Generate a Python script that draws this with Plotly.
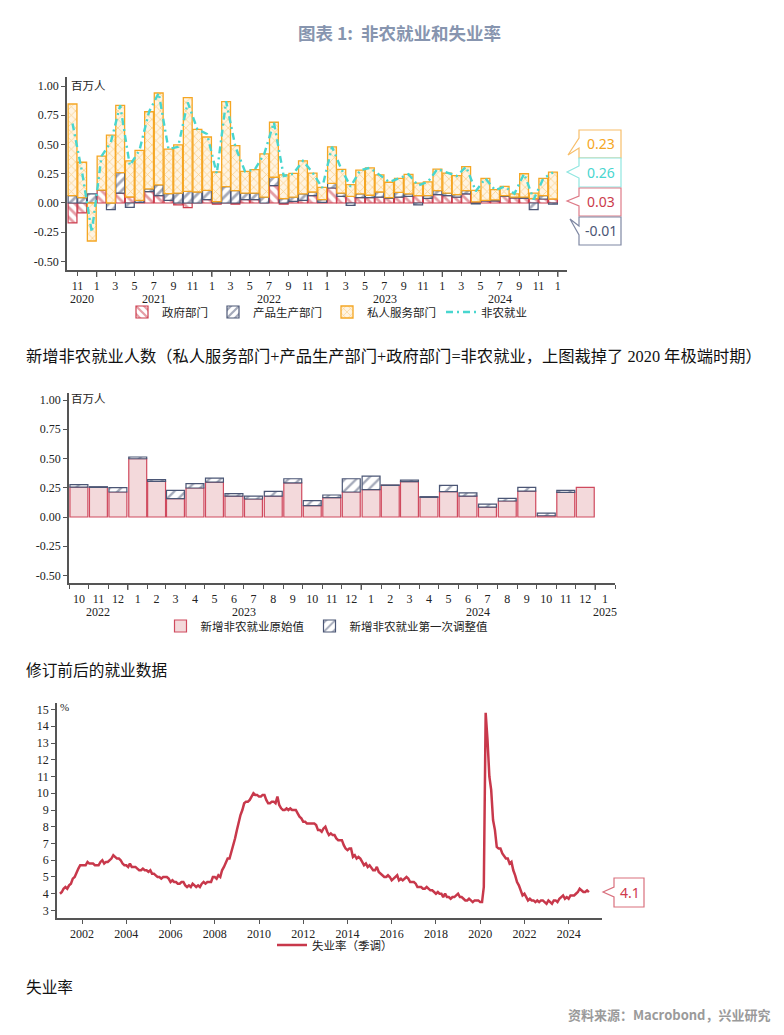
import plotly.graph_objects as go
import pandas as pd

W, H = 784, 1035
def px(x): return x / W
def py(y): return 1 - y / H

SERIF = "Liberation Serif, Noto Sans CJK SC"
CJK = "Noto Sans CJK SC"
RED = "#CC3B4C"
SLATE = "#4B5675"
ORANGE = "#F5A623"
CYAN = "#48D6CF"
AX = "#555555"

# ---------------- Chart 1: nonfarm by sector (millions) ----------------
months1 = pd.date_range("2020-10-01", "2024-12-01", freq="MS")
gov = [-0.17, -0.085, 0.0, 0.11, 0.0, 0.085, 0.051, 0.005, 0.097, 0.063, 0.023, -0.017,
       -0.04, 0.0, 0.028, -0.011, 0.0, -0.01, 0.028, 0.028, 0.0, 0.148, -0.01, 0.014,
       0.023, 0.063, 0.005, 0.128, 0.057, 0.057, 0.046, 0.046, 0.05, 0.04, 0.05, 0.057,
       0.063, 0.04, 0.071, 0.063, 0.05, 0.077, 0.01, 0.017, 0.017, 0.057, 0.043, 0.04,
       0.037, 0.034, 0.034]
goods = [0.063, 0.046, 0.077, 0.0, -0.057, 0.175, -0.037, 0.018, 0.023, 0.091, 0.057, 0.085,
         0.10, 0.094, 0.08, 0.011, 0.14, 0.105, 0.057, 0.057, 0.05, 0.072, 0.037, 0.036,
         0.054, 0.031, 0.023, 0.04, 0.028, -0.02, 0.031, 0.02, 0.044, 0.006, 0.04, 0.02,
         -0.017, 0.023, 0.034, 0.022, 0.021, 0.028, -0.008, 0.006, 0.009, 0.006, 0.007, 0.01,
         -0.057, 0.029, -0.011]
services = [0.783, 0.302, -0.325, 0.29, 0.58, 0.575, 0.309, 0.427, 0.66, 0.786, 0.38, 0.411,
            0.80, 0.536, 0.456, 0.254, 0.726, 0.385, 0.185, 0.20, 0.37, 0.47, 0.203, 0.203,
            0.283, 0.162, 0.106, 0.312, 0.203, 0.10, 0.203, 0.234, 0.146, 0.131, 0.12, 0.168,
            0.107, 0.117, 0.185, 0.171, 0.163, 0.205, 0.098, 0.187, 0.088, 0.079, 0.027, 0.20,
            0.048, 0.147, 0.23]
nonfarm = [0.68, 0.26, -0.25, 0.40, 0.52, 0.835, 0.32, 0.45, 0.78, 0.94, 0.46, 0.48,
           0.86, 0.63, 0.59, 0.25, 0.87, 0.48, 0.27, 0.285, 0.42, 0.69, 0.23, 0.25,
           0.36, 0.26, 0.13, 0.48, 0.29, 0.14, 0.28, 0.30, 0.24, 0.18, 0.21, 0.245,
           0.15, 0.18, 0.29, 0.26, 0.23, 0.31, 0.10, 0.21, 0.11, 0.14, 0.08, 0.25,
           0.03, 0.21, 0.26]
y1_ticks = [1.0, 0.75, 0.5, 0.25, 0.0, -0.25, -0.5]
y1_text = ["1.00", "0.75", "0.50", "0.25", "0.00", "-0.25", "-0.50"]
x1_ticks = pd.date_range("2020-11-01", "2025-01-01", freq="2MS")
x1_text = [str(d.month) for d in x1_ticks]
years1 = ["2020", "2021", "2022", "2023", "2024"]
years1_pos = ["2020-11-14", "2021-07-02", "2022-07-02", "2023-07-02", "2024-07-02"]

# ---------------- Chart 2: initial vs first revision ----------------
months2 = pd.date_range("2022-10-01", "2024-12-01", freq="MS")
nfp_initial = [0.256, 0.253, 0.214, 0.498, 0.305, 0.157, 0.248, 0.299, 0.179, 0.154, 0.179, 0.291,
               0.097, 0.165, 0.214, 0.234, 0.270, 0.302, 0.168, 0.217, 0.179, 0.085, 0.137, 0.222,
               0.011, 0.211, 0.253]
nfp_revision = [0.021, 0.006, 0.037, 0.015, 0.014, 0.071, 0.037, 0.034, 0.021, 0.025, 0.041, 0.036,
                0.043, 0.023, 0.113, 0.116, 0.004, 0.014, 0.006, 0.053, 0.027, 0.026, 0.023, 0.031,
                0.023, 0.017, None]
years2 = ["2022", "2023", "2024", "2025"]
years2_pos = ["2022-11-16", "2023-07-02", "2024-07-02", "2025-01-16"]

# ---------------- Chart 3: unemployment rate ----------------
months3 = pd.date_range("2001-01-01", "2024-12-01", freq="MS")
unrate = [
    4.0, 4.1, 4.3, 4.4, 4.3, 4.5, 4.6, 4.9, 5.0, 5.3, 5.5, 5.7,
    5.7, 5.7, 5.7, 5.9, 5.8, 5.8, 5.8, 5.7, 5.7, 5.7, 5.9, 6.0,
    5.8, 5.9, 5.9, 6.0, 6.1, 6.3, 6.2, 6.1, 6.1, 6.0, 5.8, 5.7,
    5.7, 5.6, 5.8, 5.6, 5.6, 5.6, 5.5, 5.4, 5.4, 5.5, 5.4, 5.4,
    5.3, 5.4, 5.2, 5.2, 5.1, 5.0, 5.0, 4.9, 5.0, 5.0, 5.0, 4.9,
    4.7, 4.8, 4.7, 4.7, 4.6, 4.6, 4.7, 4.7, 4.5, 4.4, 4.5, 4.4,
    4.6, 4.5, 4.4, 4.5, 4.4, 4.6, 4.7, 4.6, 4.7, 4.7, 4.7, 5.0,
    5.0, 4.9, 5.1, 5.0, 5.4, 5.6, 5.8, 6.1, 6.1, 6.5, 6.8, 7.3,
    7.8, 8.3, 8.7, 9.0, 9.4, 9.5, 9.5, 9.6, 9.8, 10.0, 9.9, 9.9,
    9.8, 9.8, 9.9, 9.9, 9.6, 9.4, 9.4, 9.5, 9.5, 9.4, 9.8, 9.3,
    9.1, 9.0, 9.0, 9.1, 9.0, 9.1, 9.0, 9.0, 9.0, 8.8, 8.6, 8.5,
    8.3, 8.3, 8.2, 8.2, 8.2, 8.2, 8.2, 8.1, 7.8, 7.8, 7.7, 7.9,
    8.0, 7.7, 7.5, 7.6, 7.5, 7.5, 7.3, 7.2, 7.2, 7.2, 6.9, 6.7,
    6.6, 6.7, 6.7, 6.2, 6.3, 6.1, 6.2, 6.1, 5.9, 5.7, 5.8, 5.6,
    5.7, 5.5, 5.4, 5.4, 5.6, 5.3, 5.2, 5.1, 5.0, 5.0, 5.1, 5.0,
    4.8, 4.9, 5.0, 5.1, 4.8, 4.9, 4.8, 4.9, 5.0, 4.9, 4.7, 4.7,
    4.7, 4.6, 4.4, 4.4, 4.4, 4.3, 4.3, 4.4, 4.3, 4.2, 4.2, 4.1,
    4.0, 4.1, 4.0, 4.0, 3.8, 4.0, 3.8, 3.8, 3.7, 3.8, 3.8, 3.9,
    4.0, 3.8, 3.8, 3.7, 3.6, 3.6, 3.7, 3.6, 3.5, 3.6, 3.6, 3.6,
    3.5, 3.5, 4.4, 14.8, 13.2, 11.0, 10.2, 8.4, 7.8, 6.8, 6.7, 6.7,
    6.4, 6.2, 6.1, 6.1, 5.8, 5.9, 5.4, 5.1, 4.7, 4.5, 4.2, 3.9,
    4.0, 3.8, 3.6, 3.7, 3.6, 3.6, 3.5, 3.6, 3.5, 3.6, 3.6, 3.5,
    3.4, 3.6, 3.5, 3.4, 3.6, 3.6, 3.5, 3.7, 3.8, 3.9, 3.7, 3.8,
    3.7, 3.9, 3.9, 3.9, 4.0, 4.1, 4.3, 4.2, 4.1, 4.1, 4.2, 4.1,
]
x3_ticks = pd.date_range("2002-01-01", "2024-01-01", freq="24MS")
x3_text = [str(d.year) for d in x3_ticks]

fig = go.Figure()

# chart 1 traces
fig.add_trace(go.Bar(
    x=months1, y=gov, xperiod="M1", xperiodalignment="middle", name="政府部门",
    marker=dict(color="white", line=dict(color=RED, width=1.2),
                pattern=dict(shape="\\", fgcolor=RED, bgcolor="white", size=7, solidity=0.4)),
    xaxis="x", yaxis="y", legend="legend"))
fig.add_trace(go.Bar(
    x=months1, y=goods, xperiod="M1", xperiodalignment="middle", name="产品生产部门",
    marker=dict(color="white", line=dict(color=SLATE, width=1.2),
                pattern=dict(shape="/", fgcolor=SLATE, bgcolor="white", size=7, solidity=0.4)),
    xaxis="x", yaxis="y", legend="legend"))
fig.add_trace(go.Bar(
    x=months1, y=services, xperiod="M1", xperiodalignment="middle", name="私人服务部门",
    marker=dict(color="white", line=dict(color=ORANGE, width=1.3),
                pattern=dict(shape="x", fgcolor="#F5A623", bgcolor="#FFF4E2", size=6, solidity=0.22)),
    xaxis="x", yaxis="y", legend="legend"))
fig.add_trace(go.Scatter(
    x=months1, y=nonfarm, xperiod="M1", xperiodalignment="middle", name="非农就业",
    mode="lines", line=dict(color=CYAN, width=2.4, dash="7px,4px,2px,4px"),
    xaxis="x", yaxis="y", legend="legend"))

# chart 2 traces
fig.add_trace(go.Bar(
    x=months2, y=nfp_initial, xperiod="M1", xperiodalignment="middle", name="新增非农就业原始值",
    marker=dict(color="#F3D9DB", line=dict(color="#CF4A5E", width=1.2)),
    xaxis="x2", yaxis="y2", legend="legend2"))
fig.add_trace(go.Bar(
    x=months2, y=nfp_revision, xperiod="M1", xperiodalignment="middle", name="新增非农就业第一次调整值",
    marker=dict(color="white", line=dict(color=SLATE, width=1.2),
                pattern=dict(shape="/", fgcolor=SLATE, bgcolor="white", size=8, solidity=0.3)),
    xaxis="x2", yaxis="y2", legend="legend2"))

# chart 3 trace
fig.add_trace(go.Scatter(
    x=months3, y=unrate, name="失业率（季调）", mode="lines",
    line=dict(color="#C8384B", width=2.5),
    xaxis="x3", yaxis="y3", legend="legend3"))

axis_common = dict(showline=True, linecolor=AX, linewidth=1.5, ticks="outside", ticklen=4,
                   tickcolor=AX, showgrid=False, zeroline=False,
                   tickfont=dict(family=SERIF, size=12, color="#222"))

leg_font = dict(family=SERIF, size=11.5, color="#222")
fig.update_layout(
    width=W, height=H, autosize=False, margin=dict(l=0, r=0, t=0, b=0),
    paper_bgcolor="white", plot_bgcolor="white",
    barmode="relative", bargap=0.05,
    xaxis=dict(domain=[px(67), px(567)], type="date", range=["2020-09-29", "2025-01-30"],
               tickmode="array", tickvals=x1_ticks, ticktext=x1_text, anchor="y", **axis_common),
    yaxis=dict(domain=[py(270), py(77)], range=[-0.573, 1.077], tickmode="array",
               tickvals=y1_ticks, ticktext=y1_text, anchor="x", **axis_common),
    xaxis2=dict(domain=[px(69), px(615)], type="date", range=["2022-10-01", "2025-02-01"],
                dtick="M1", tick0="2022-10-01", tickformat="%-m", ticklabelmode="period",
                anchor="y2", **axis_common),
    yaxis2=dict(domain=[py(583), py(393)], range=[-0.564, 1.06], tickmode="array",
                tickvals=y1_ticks, ticktext=y1_text, anchor="x2", **axis_common),
    xaxis3=dict(domain=[px(57), px(602)], type="date", range=["2000-11-13", "2025-07-05"],
                tickmode="array", tickvals=x3_ticks, ticktext=x3_text, anchor="y3", **axis_common),
    yaxis3=dict(domain=[py(918), py(703)], range=[2.55, 15.39], dtick=1, tick0=3,
                anchor="x3", **axis_common),
    legend=dict(orientation="h", x=px(327), xanchor="center", y=py(312), yanchor="middle",
                font=leg_font, bgcolor="rgba(0,0,0,0)", itemwidth=30, traceorder="normal"),
    legend2=dict(orientation="h", x=px(327), xanchor="center", y=py(626), yanchor="middle",
                 font=leg_font, bgcolor="rgba(0,0,0,0)", itemwidth=30),
    legend3=dict(orientation="h", x=px(335), xanchor="center", y=py(945), yanchor="middle",
                 font=leg_font, bgcolor="rgba(0,0,0,0)", itemwidth=30),
)

ann = []
shapes = []

def text_ann(t, x, y, size, color="#111", family=CJK, xanchor="left", xref="paper"):
    ann.append(dict(text=t, x=x, y=y, xref=xref, yref="paper", xanchor=xanchor, yanchor="middle",
                    showarrow=False, font=dict(family=family, size=size, color=color)))

text_ann("<b>图表 1:  非农就业和失业率</b>", px(399), py(33), 17.5, "#8795AF", CJK, "center")
text_ann("新增非农就业人数（私人服务部门+产品生产部门+政府部门=非农就业，上图裁掉了 2020 年极端时期）",
         px(24), py(357), 16.3, "#111", SERIF)
text_ann("修订前后的就业数据", px(24), py(670), 15.7, "#111", SERIF)
text_ann("失业率", px(24), py(987), 15.7, "#111", SERIF)
text_ann("<b>资料来源：Macrobond，兴业研究</b>", px(773), py(1014), 13, "#9A9A9A", CJK, "right")
text_ann("百万人", px(69), py(86), 11.5, "#222", SERIF)
text_ann("百万人", px(69), py(399), 11.5, "#222", SERIF)
text_ann("%", px(58), py(707), 11, "#222", SERIF)

for t, pos in zip(years1, years1_pos):
    text_ann(t, pos, py(299), 12, "#222", SERIF, "center", "x")
for t, pos in zip(years2, years2_pos):
    text_ann(t, pos, py(612), 12, "#222", SERIF, "center", "x2")

# long ticks at year boundaries
for d in ["2021-01-01", "2022-01-01", "2023-01-01", "2024-01-01", "2025-01-01"]:
    shapes.append(dict(type="line", xref="x", yref="paper", x0=d, x1=d, y0=py(270), y1=py(277),
                       line=dict(color=AX, width=1.3)))
for d in ["2023-01-01", "2024-01-01", "2025-01-01"]:
    shapes.append(dict(type="line", xref="x2", yref="paper", x0=d, x1=d, y0=py(583), y1=py(590),
                       line=dict(color=AX, width=1.3)))

def callout(box, ta, tb, tip, color, text, tcolor):
    x0, y0, x1, y1 = box
    tx, ty = tip
    path = (f"M{px(x0)},{py(y0)} L{px(x1)},{py(y0)} L{px(x1)},{py(y1)} L{px(x0)},{py(y1)} "
            f"L{px(x0)},{py(tb)} L{px(tx)},{py(ty)} L{px(x0)},{py(ta)} Z")
    shapes.append(dict(type="path", path=path, xref="paper", yref="paper",
                       line=dict(color=color, width=1.2), fillcolor="white", layer="above"))
    ann.append(dict(text=text, x=px((x0 + x1) / 2 + 1), y=py((y0 + y1) / 2), xref="paper", yref="paper",
                    xanchor="center", yanchor="middle",
                    showarrow=False, font=dict(family="Noto Sans", size=14, color=tcolor)))

callout((579, 130, 621, 158), 138, 148, (568, 155), "#F7BE6A", f"{services[-1]:.2f}", ORANGE)
callout((579, 158, 621, 187), 166, 178, (567, 172), "#8FE6E0", f"{nonfarm[-1]:.2f}", CYAN)
callout((579, 188, 621, 216), 196, 206, (567, 201), "#DE7B88", f"{gov[-1]:.2f}", RED)
callout((579, 217, 621, 245), 226, 235, (570, 219), "#7F88A3", f"{goods[-1]:.2f}", SLATE)
callout((614, 878, 644, 907), 887, 897, (603, 892), "#D9707D", f"{unrate[-1]:.1f}", "#D0394C")

fig.update_layout(annotations=ann, shapes=shapes)

fig.write_html("out.html", config={"displayModeBar": False},
               post_script="document.body.style.margin='0';document.body.style.overflow='hidden';")
